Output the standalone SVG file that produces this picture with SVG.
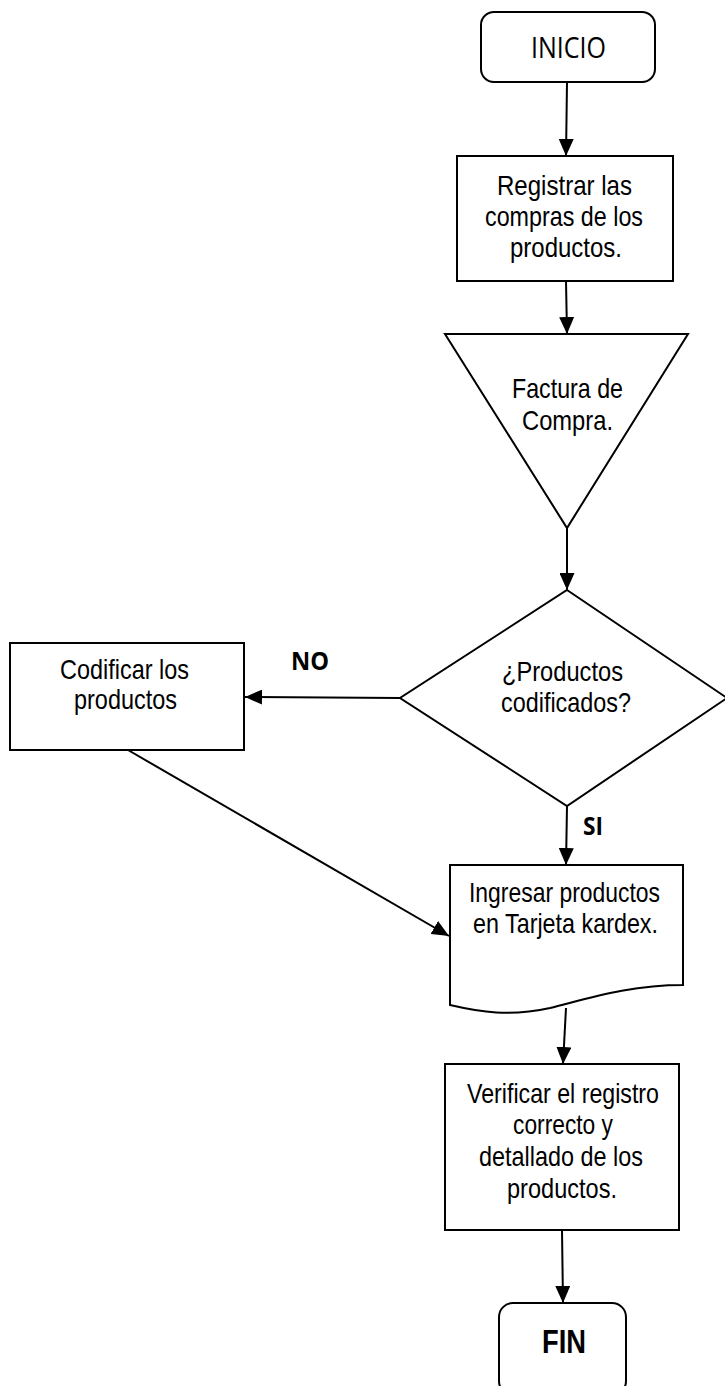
<svg xmlns="http://www.w3.org/2000/svg" width="725" height="1386" viewBox="0 0 725 1386">
  <style>
    .shape { fill: #ffffff; stroke: #000000; stroke-width: 2; }
    .edge { fill: none; stroke: #000000; stroke-width: 2; }
    .lbl { font-family: "Liberation Sans", Arial, sans-serif; font-size: 28px; fill: #000000; text-anchor: middle; }
    .term { font-family: "Open Sans", "Liberation Sans", sans-serif; font-size: 29px; fill: #000000; text-anchor: middle; }
    .cond { font-family: "Open Sans", "Liberation Sans", sans-serif; font-size: 25px; font-weight: bold; fill: #000000; }
    .fin { font-family: "Liberation Sans", Arial, sans-serif; font-size: 33px; font-weight: bold; fill: #000000; text-anchor: middle; }
  </style>
  <defs>
    <marker id="arrow" markerUnits="userSpaceOnUse" markerWidth="17" markerHeight="15" refX="17" refY="7.5" orient="auto">
      <path d="M0,0 L17,7.5 L0,15 z" fill="#000000"/>
    </marker>
  </defs>
  <rect width="725" height="1386" fill="#ffffff"/>

  <!-- connectors -->
  <g id="connectors">
    <line class="edge" x1="567" y1="82" x2="566" y2="156" marker-end="url(#arrow)"/>
    <line class="edge" x1="566" y1="281" x2="567" y2="334" marker-end="url(#arrow)"/>
    <line class="edge" x1="567" y1="528" x2="567" y2="590" marker-end="url(#arrow)"/>
    <line class="edge" x1="400" y1="698" x2="245" y2="697" marker-end="url(#arrow)"/>
    <line class="edge" x1="567" y1="806" x2="566" y2="865" marker-end="url(#arrow)"/>
    <line class="edge" x1="128" y1="750" x2="449" y2="936" marker-end="url(#arrow)"/>
    <line class="edge" x1="566" y1="1008" x2="563" y2="1064" marker-end="url(#arrow)"/>
    <line class="edge" x1="562" y1="1230" x2="563" y2="1303" marker-end="url(#arrow)"/>
    <text class="cond" x="291" y="670" textLength="38" lengthAdjust="spacingAndGlyphs">NO</text>
    <text class="cond" x="583" y="835" textLength="20" lengthAdjust="spacingAndGlyphs">SI</text>
  </g>

  <!-- start -->
  <g id="inicio">
    <rect class="shape" x="481" y="12" width="174" height="70" rx="13"/>
    <text class="term" x="568.5" y="58" textLength="75" lengthAdjust="spacingAndGlyphs">INICIO</text>
  </g>

  <!-- record purchases -->
  <g id="registrar">
    <rect class="shape" x="457" y="156" width="216" height="125"/>
    <text class="lbl" x="564.5" y="195" textLength="135" lengthAdjust="spacingAndGlyphs">Registrar las</text>
    <text class="lbl" x="564" y="226" textLength="158" lengthAdjust="spacingAndGlyphs">compras de los</text>
    <text class="lbl" x="566" y="257" textLength="112" lengthAdjust="spacingAndGlyphs">productos.</text>
  </g>

  <!-- invoice (inverted triangle) -->
  <g id="factura">
    <polygon class="shape" points="445,334 688,334 567,528"/>
    <text class="lbl" x="567.5" y="398" textLength="111" lengthAdjust="spacingAndGlyphs">Factura de</text>
    <text class="lbl" x="567.5" y="430" textLength="91" lengthAdjust="spacingAndGlyphs">Compra.</text>
  </g>

  <!-- decision -->
  <g id="decision">
    <polygon class="shape" points="567,590 727,698 567,806 400,698"/>
    <text class="lbl" x="562.5" y="681" textLength="121" lengthAdjust="spacingAndGlyphs">¿Productos</text>
    <text class="lbl" x="566" y="712" textLength="130" lengthAdjust="spacingAndGlyphs">codificados?</text>
  </g>

  <!-- encode products -->
  <g id="codificar">
    <rect class="shape" x="10" y="643" width="234" height="107"/>
    <text class="lbl" x="124.5" y="679" textLength="129" lengthAdjust="spacingAndGlyphs">Codificar los</text>
    <text class="lbl" x="125.5" y="709" textLength="103" lengthAdjust="spacingAndGlyphs">productos</text>
  </g>

  <!-- kardex entry (document) -->
  <g id="ingresar">
    <path class="shape" d="M450,865 H683 V985 C630,985 590,998 550,1008 C510,1017 480,1012 450,1005 Z"/>
    <text class="lbl" x="564.5" y="902" textLength="191" lengthAdjust="spacingAndGlyphs">Ingresar productos</text>
    <text class="lbl" x="565.5" y="933" textLength="185" lengthAdjust="spacingAndGlyphs">en Tarjeta kardex.</text>
  </g>

  <!-- verify -->
  <g id="verificar">
    <rect class="shape" x="445" y="1064" width="234" height="166"/>
    <text class="lbl" x="563" y="1103" textLength="192" lengthAdjust="spacingAndGlyphs">Verificar el registro</text>
    <text class="lbl" x="563" y="1134" textLength="100" lengthAdjust="spacingAndGlyphs">correcto y</text>
    <text class="lbl" x="561" y="1166" textLength="164" lengthAdjust="spacingAndGlyphs">detallado de los</text>
    <text class="lbl" x="562" y="1198" textLength="110" lengthAdjust="spacingAndGlyphs">productos.</text>
  </g>

  <!-- end -->
  <g id="fin">
    <rect class="shape" x="499" y="1303" width="127" height="92" rx="14"/>
    <text class="fin" x="564" y="1353" textLength="44" lengthAdjust="spacingAndGlyphs">FIN</text>
  </g>
</svg>
